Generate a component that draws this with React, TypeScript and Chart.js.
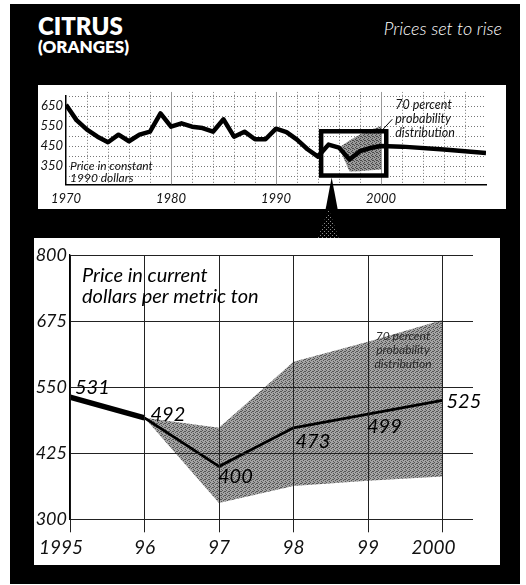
import React, { useEffect, useRef } from "react";
import { Chart, registerables } from "chart.js";

Chart.register(...registerables);

const FONT = "Lato, 'Open Sans', 'DejaVu Sans', sans-serif";

// ---------- Top chart: price in constant 1990 dollars ----------
const topYears = [
  1970, 1971, 1972, 1973, 1974, 1975, 1976, 1977, 1978, 1979,
  1980, 1981, 1982, 1983, 1984, 1985, 1986, 1987, 1988, 1989,
  1990, 1991, 1992, 1993, 1994, 1995, 1996, 1997, 1998, 1999,
  2000, 2002, 2006, 2010,
];
const topPrices = [
  655, 578, 530, 495, 467, 505, 472, 505, 520, 612,
  545, 562, 545, 538, 520, 582, 495, 520, 482, 482,
  535, 518, 480, 432, 395, 455, 440, 380, 422, 438,
  448, 445, 430, 413,
];
const topBandYears = [1996, 1997, 1998, 1999, 2000];
const topBandHigh = [440, 476, 506, 530, 547];
const topBandLow = [440, 320, 322, 326, 330];
const topXTicks = [1970, 1980, 1990, 2000];
const topYTicks = [350, 450, 550, 650];
const topXRange = [1970, 2010];
const topYRange = [255, 700];
const zoomBoxYears = [1994.3, 2000.5];
const zoomBoxPrices = [300, 522];
const arrowYear = 1995.3;

// ---------- Lower chart: price in current dollars ----------
const years = [1995, 1996, 1997, 1998, 1999, 2000];
const yearLabels = ["1995", "96", "97", "98", "99", "2000"];
const prices = [531, 492, 400, 473, 499, 525];
const bandYears = [1996, 1997, 1998, 1999, 2000];
const bandHigh = [492, 473, 598, 636, 677];
const bandLow = [492, 331, 363, 373, 381];
const lowerYTicks = [300, 425, 550, 675, 800];
const lowerXRange = [1995, 2000.41];
const lowerYRange = [300, 800];

function stipple(base: string | null, dot: string, pts: number[][], size = 4) {
  const c = document.createElement("canvas");
  c.width = size;
  c.height = size;
  const g = c.getContext("2d")!;
  if (base) {
    g.fillStyle = base;
    g.fillRect(0, 0, size, size);
  }
  g.fillStyle = dot;
  pts.forEach(([x, y]) => g.fillRect(x, y, 1, 1));
  return g.createPattern(c, "repeat")!;
}

const TOP_PANEL_H = 124;

export default function App() {
  const topRef = useRef<HTMLCanvasElement>(null);
  const lowRef = useRef<HTMLCanvasElement>(null);

  useEffect(() => {
    const bandFillTop = stipple("#9a9a9a", "#4a4a4a", [[0, 0], [2, 1], [1, 2], [3, 3], [2, 3]]);
    const bandFillLow = stipple("#a4a4a4", "#555", [[0, 0], [2, 1], [1, 2], [3, 3], [3, 1]]);
    const arrowGlow = stipple(null, "#8a8a8a", [[0, 0], [2, 2]]);

    const topDecor = {
      id: "topDecor",
      beforeDraw(chart: any) {
        const ctx = chart.ctx;
        ctx.save();
        ctx.fillStyle = "#fff";
        ctx.fillRect(0, 0, chart.width, TOP_PANEL_H);
        ctx.restore();
      },
      beforeDatasetsDraw(chart: any) {
        const { ctx, chartArea: a, scales } = chart;
        const xs = scales.x, ys = scales.y;
        ctx.save();
        ctx.beginPath();
        ctx.rect(a.left, a.top - 4, a.right - a.left, a.bottom - a.top + 4);
        ctx.clip();
        ctx.lineWidth = 1;
        ctx.strokeStyle = "#777";
        ctx.setLineDash([1, 2]);
        for (let v = 300; v <= 700; v += 50) {
          const y = Math.round(ys.getPixelForValue(v)) + 0.5;
          ctx.beginPath();
          ctx.moveTo(a.left, y);
          ctx.lineTo(a.right, y);
          ctx.stroke();
        }
        for (let yr = 1972; yr <= 2010; yr += 2) {
          if (yr % 10 === 0) continue;
          const x = Math.round(xs.getPixelForValue(yr)) + 0.5;
          ctx.beginPath();
          ctx.moveTo(x, a.top - 4);
          ctx.lineTo(x, a.bottom);
          ctx.stroke();
        }
        ctx.setLineDash([]);
        ctx.strokeStyle = "#999";
        [1980, 1990, 2000, 2010].forEach((yr) => {
          const x = Math.round(xs.getPixelForValue(yr)) + 0.5;
          ctx.beginPath();
          ctx.moveTo(x, a.top - 4);
          ctx.lineTo(x, a.bottom);
          ctx.stroke();
        });
        ctx.restore();

        ctx.save();
        ctx.fillStyle = "#111";
        ctx.font = `italic 12px ${FONT}`;
        ctx.fillText("Price in constant", a.left + 4, a.bottom - 15);
        ctx.fillText("1990 dollars", a.left + 4, a.bottom - 3);
        ctx.restore();
      },
      afterDatasetsDraw(chart: any) {
        const { ctx, chartArea: a, scales } = chart;
        const xs = scales.x, ys = scales.y;
        const x0 = xs.getPixelForValue(zoomBoxYears[0]);
        const x1 = xs.getPixelForValue(zoomBoxYears[1]);
        const yTop = ys.getPixelForValue(zoomBoxPrices[1]);
        const yBot = ys.getPixelForValue(zoomBoxPrices[0]);
        ctx.save();
        ctx.strokeStyle = "#000";
        ctx.lineWidth = 4.5;
        ctx.strokeRect(x0, yTop, x1 - x0, yBot - yTop);

        // annotation
        ctx.fillStyle = "#111";
        ctx.font = `italic 12.5px ${FONT}`;
        const tx = x1 + 9;
        ctx.fillText("70 percent", tx, a.top + 13);
        ctx.fillText("probability", tx, a.top + 27);
        ctx.fillText("distribution", tx, a.top + 41);
        ctx.lineWidth = 1;
        ctx.beginPath();
        ctx.moveTo(x1 - 6, yTop + 1);
        ctx.lineTo(x1 + 6, yTop - 12);
        ctx.stroke();

        // arrow towards the detailed chart
        const ax = xs.getPixelForValue(arrowYear);
        ctx.fillStyle = "#000";
        ctx.beginPath();
        ctx.moveTo(ax, yBot + 2);
        ctx.lineTo(ax - 6, TOP_PANEL_H);
        ctx.lineTo(ax + 6, TOP_PANEL_H);
        ctx.closePath();
        ctx.fill();
        ctx.fillStyle = arrowGlow;
        ctx.beginPath();
        ctx.moveTo(ax - 3, TOP_PANEL_H);
        ctx.lineTo(ax - 14, chart.height);
        ctx.lineTo(ax + 7, chart.height);
        ctx.closePath();
        ctx.fill();
        ctx.restore();
      },
    };

    const top = new Chart(topRef.current!, {
      type: "line",
      data: {
        datasets: [
          {
            data: topBandYears.map((x, i) => ({ x, y: topBandLow[i] })),
            borderWidth: 0,
            pointRadius: 0,
            fill: false,
            order: 2,
          },
          {
            data: topBandYears.map((x, i) => ({ x, y: topBandHigh[i] })),
            borderWidth: 0,
            pointRadius: 0,
            fill: "-1",
            backgroundColor: bandFillTop,
            order: 1,
          },
          {
            data: topYears.map((x, i) => ({ x, y: topPrices[i] })),
            borderColor: "#000",
            borderWidth: 4.5,
            borderJoinStyle: "round",
            pointRadius: 0,
            fill: false,
            tension: 0,
            order: 0,
          },
        ],
      },
      options: {
        responsive: false,
        animation: false,
        events: [],
        layout: { padding: { top: 9, right: 20, left: 0, bottom: 0 } },
        plugins: { legend: { display: false }, tooltip: { enabled: false } },
        scales: {
          x: {
            type: "linear",
            min: topXRange[0],
            max: topXRange[1],
            afterBuildTicks: (s: any) => {
              s.ticks = topXTicks.map((value) => ({ value }));
            },
            afterFit: (s: any) => {
              s.height = 53.5;
            },
            grid: { display: false, drawTicks: false },
            border: { display: true, color: "#000", width: 1.5 },
            ticks: {
              color: "#111",
              padding: 7,
              maxRotation: 0,
              autoSkip: false,
              font: { family: FONT, size: 13, style: "italic" },
              callback: (v: any) => String(v),
            },
          },
          y: {
            type: "linear",
            min: topYRange[0],
            max: topYRange[1],
            afterBuildTicks: (s: any) => {
              s.ticks = topYTicks.map((value) => ({ value }));
            },
            afterFit: (s: any) => {
              s.width = 28;
            },
            grid: { display: false, drawTicks: false },
            border: { display: true, color: "#000", width: 1.5 },
            ticks: {
              color: "#111",
              padding: 3,
              font: { family: FONT, size: 13, style: "italic" },
              callback: (v: any) => String(v),
            },
          },
        },
      },
      plugins: [topDecor],
    } as any);

    const labelOffsets = [
      [5, -3],
      [6, 3],
      [-1, 17],
      [2, 20],
      [-1, 19],
      [4, 8],
    ];
    const TICK_LEN = 13;

    const lowDecor = {
      id: "lowDecor",
      beforeDraw(chart: any) {
        const ctx = chart.ctx;
        ctx.save();
        ctx.fillStyle = "#fff";
        ctx.fillRect(0, 0, chart.width, chart.height);
        ctx.restore();
      },
      afterDatasetsDraw(chart: any) {
        // vertical grid lines with their ticks, over the band
        const { ctx, chartArea: a, scales } = chart;
        const xs = scales.x;
        ctx.save();
        ctx.strokeStyle = "#222";
        ctx.lineWidth = 1;
        years.forEach((yr) => {
          const x = Math.round(xs.getPixelForValue(yr)) + 0.5;
          ctx.beginPath();
          ctx.moveTo(x, a.top);
          ctx.lineTo(x, a.bottom + TICK_LEN);
          ctx.stroke();
        });
        ctx.restore();
      },
      afterDraw(chart: any) {
        const { ctx, chartArea: a, scales } = chart;
        const xs = scales.x, ys = scales.y;
        ctx.save();
        // x-axis labels
        ctx.fillStyle = "#111";
        ctx.font = `italic 19px ${FONT}`;
        ctx.textBaseline = "alphabetic";
        years.forEach((yr, i) => {
          const x = xs.getPixelForValue(yr);
          const lab = yearLabels[i];
          if (lab.length > 2) {
            ctx.textAlign = "right";
            ctx.fillText(lab, x + 13, a.bottom + 35);
          } else {
            ctx.textAlign = "center";
            ctx.fillText(lab, x, a.bottom + 35);
          }
        });
        ctx.textAlign = "left";

        // value labels
        ctx.fillStyle = "#000";
        ctx.font = `italic 20px ${FONT}`;
        prices.forEach((p, i) => {
          const x = xs.getPixelForValue(years[i]);
          const y = ys.getPixelForValue(p);
          ctx.fillText(String(p), x + labelOffsets[i][0], y + labelOffsets[i][1]);
        });
        ctx.font = `italic 20px ${FONT}`;
        ctx.fillText("Price in current", a.left + 12, a.top + 27);
        ctx.fillText("dollars per metric ton", a.left + 12, a.top + 48);

        ctx.fillStyle = "#2a2a2a";
        ctx.font = `italic 12px ${FONT}`;
        ctx.textAlign = "center";
        const cx = xs.getPixelForValue(1999.47);
        const by = ys.getPixelForValue(640);
        ctx.fillText("70 percent", cx, by);
        ctx.fillText("probability", cx, by + 14);
        ctx.fillText("distribution", cx, by + 28);
        ctx.restore();
      },
    };

    const low = new Chart(lowRef.current!, {
      type: "line",
      data: {
        datasets: [
          {
            data: bandYears.map((x, i) => ({ x, y: bandLow[i] })),
            borderWidth: 0,
            pointRadius: 0,
            fill: false,
            order: 2,
          },
          {
            data: bandYears.map((x, i) => ({ x, y: bandHigh[i] })),
            borderWidth: 0,
            pointRadius: 0,
            fill: "-1",
            backgroundColor: bandFillLow,
            order: 1,
          },
          {
            data: years.map((x, i) => ({ x, y: prices[i] })),
            borderColor: "#000",
            borderWidth: 2.8,
            borderJoinStyle: "round",
            pointRadius: 0,
            fill: false,
            tension: 0,
            order: 0,
            segment: {
              borderWidth: (c: any) => (c.p0DataIndex === 0 ? 5.5 : 2.8),
            },
          },
        ],
      },
      options: {
        responsive: false,
        animation: false,
        events: [],
        layout: { padding: { top: 17, right: 27, left: 0, bottom: 0 } },
        plugins: { legend: { display: false }, tooltip: { enabled: false } },
        scales: {
          x: {
            type: "linear",
            min: lowerXRange[0],
            max: lowerXRange[1],
            afterBuildTicks: (s: any) => {
              s.ticks = years.map((value) => ({ value }));
            },
            afterFit: (s: any) => {
              s.height = 45.7;
            },
            grid: { display: false, drawTicks: false },
            border: { display: false },
            ticks: { display: false },
          },
          y: {
            type: "linear",
            min: lowerYRange[0],
            max: lowerYRange[1],
            afterBuildTicks: (s: any) => {
              s.ticks = lowerYTicks.map((value) => ({ value }));
            },
            afterFit: (s: any) => {
              s.width = 36;
            },
            grid: { color: "#222", lineWidth: 1, drawTicks: false, z: 1 },
            border: { display: true, color: "#000", width: 1.3, z: 1 },
            ticks: {
              color: "#111",
              padding: 3,
              font: { family: FONT, size: 18, style: "italic" },
              callback: (v: any) => String(v),
            },
          },
        },
      },
      plugins: [lowDecor],
    } as any);

    return () => {
      top.destroy();
      low.destroy();
    };
  }, []);

  return (
    <div
      style={{
        position: "absolute",
        left: 0,
        top: 0,
        width: 526,
        height: 585,
        background: "#fff",
        overflow: "hidden",
      }}
    >
      <svg width={526} height={585} style={{ position: "absolute", left: 0, top: 0 }}>
        <rect x={10} y={4} width={510} height={580} fill="#000" />
        <text x={38} y={35} fill="#fff" fontFamily={FONT} fontWeight={800} fontSize={24}>
          CITRUS
        </text>
        <text x={38} y={53} fill="#fff" fontFamily={FONT} fontWeight={800} fontSize={17}>
          (ORANGES)
        </text>
        <text
          x={502}
          y={35}
          fill="#fff"
          fontFamily={FONT}
          fontStyle="italic"
          fontWeight={300}
          fontSize={18}
          textAnchor="end"
        >
          Prices set to rise
        </text>
      </svg>
      <canvas
        ref={topRef}
        width={468}
        height={153}
        style={{ position: "absolute", left: 38, top: 85, width: 468, height: 153 }}
      />
      <canvas
        ref={lowRef}
        width={466}
        height={327}
        style={{ position: "absolute", left: 34, top: 238, width: 466, height: 327 }}
      />
    </div>
  );
}
